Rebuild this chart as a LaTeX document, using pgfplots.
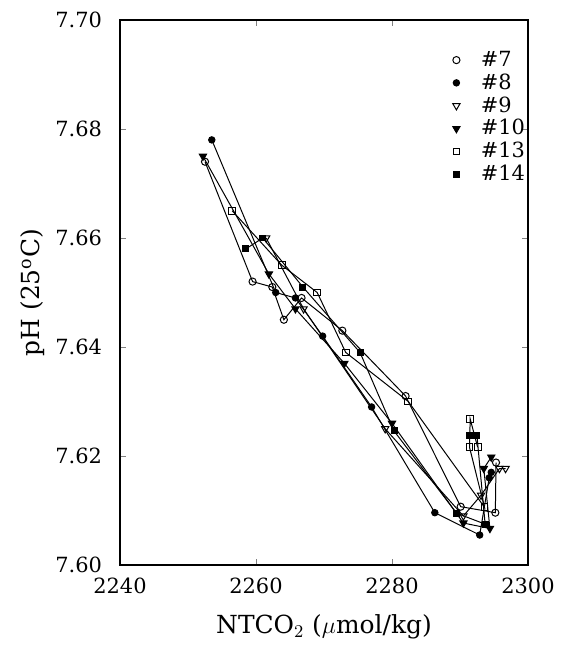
\documentclass[border=0pt]{standalone}
\usepackage{fontspec}
\setmainfont{DejaVu Serif}
\usepackage{pgfplots}
\pgfplotsset{compat=1.18}
\begin{document}
\begin{tikzpicture}
\begin{axis}[
  scale only axis, width=204bp, height=272.5bp,
  at={(0,0)}, anchor=south west,
  xmin=2240, xmax=2300, ymin=7.60, ymax=7.70,
  xtick={2240,2260,2280,2300},
  ytick={7.60,7.62,7.64,7.66,7.68,7.70},
  tick align=inside, major tick length=3bp,
  axis line style={line width=0.6pt},
  /pgf/number format/assume math mode=true,
  x tick label style={/pgf/number format/1000 sep={}, font=\fontsize{10.5}{12}\selectfont, yshift=-3bp},
  y tick label style={/pgf/number format/.cd, fixed, fixed zerofill, precision=2, /tikz/.cd, font=\fontsize{10.5}{12}\selectfont, xshift=-5.5bp},
  xlabel={NTCO$_2$ ($\mu$mol/kg)},
  ylabel={pH (25$^{\mathrm{o}}$C)},
  x label style={at={(axis description cs:0.5,-0.1138)}, anchor=center, font=\fontsize{12.5}{14}\selectfont},
  y label style={at={(axis description cs:-0.2132,0.5)}, anchor=center, font=\fontsize{12.5}{14}\selectfont},
  every axis plot/.append style={black, line width=0.5pt},
  legend image code/.code={\draw[#1, only marks] plot coordinates {(0bp,0bp)}; \path (-3bp,0bp) (10bp,0bp);},
  legend style={draw=none, fill=none, at={(axis description cs:0.793,0.9585)}, anchor=north west,
    font=\fontsize{10.5}{12}\selectfont, row sep=-1.8bp},
  legend cell align=left,
]
\addplot[mark=o, mark size=1.8pt] coordinates {
(2252.5,7.674) (2259.5,7.652) (2262.4,7.651) (2264.1,7.645) (2266.7,7.649)
(2272.7,7.643) (2282.0,7.631) (2290.1,7.6107) (2295.2,7.6096) (2295.3,7.6188)};
\addlegendentry{\#7}
\addplot[mark=*, mark size=1.6pt] coordinates {
(2253.5,7.678) (2262.9,7.650) (2265.8,7.649) (2269.8,7.642) (2277.0,7.629)
(2286.3,7.6096) (2292.9,7.6055) (2294.3,7.616) (2294.6,7.6170)};
\addlegendentry{\#8}
\addplot[mark=triangle, mark size=2.1pt, mark options={rotate=180}] coordinates {
(2261.5,7.660) (2267.0,7.647) (2279.0,7.625) (2290.5,7.6090) (2293.1,7.6128)
(2295.8,7.6177) (2296.7,7.6177)};
\addlegendentry{\#9}
\addplot[mark=triangle*, mark size=2.1pt, mark options={rotate=180}] coordinates {
(2252.2,7.675) (2261.9,7.6534) (2265.8,7.647) (2273.0,7.637) (2280.0,7.626)
(2290.5,7.6077) (2294.4,7.6067) (2293.5,7.6177) (2294.6,7.6198)};
\addlegendentry{\#10}
\addplot[mark=square, mark size=1.7pt] coordinates {
(2256.5,7.665) (2263.8,7.655) (2269.0,7.650) (2273.2,7.639) (2282.4,7.630)
(2293.6,7.6106) (2291.4,7.6216) (2291.5,7.6268) (2292.6,7.6216)};
\addlegendentry{\#13}
\addplot[mark=square*, mark size=1.5pt] coordinates {
(2258.5,7.658) (2261.0,7.660) (2266.9,7.651) (2275.3,7.639) (2280.3,7.6246)
(2289.5,7.6095) (2293.7,7.6075) (2292.5,7.6237) (2291.4,7.6237)};
\addlegendentry{\#14}
\end{axis}
\pgfresetboundingbox
\path[use as bounding box] (-60bp,-42bp) rectangle (221bp,282.5bp);
\end{tikzpicture}
\end{document}
